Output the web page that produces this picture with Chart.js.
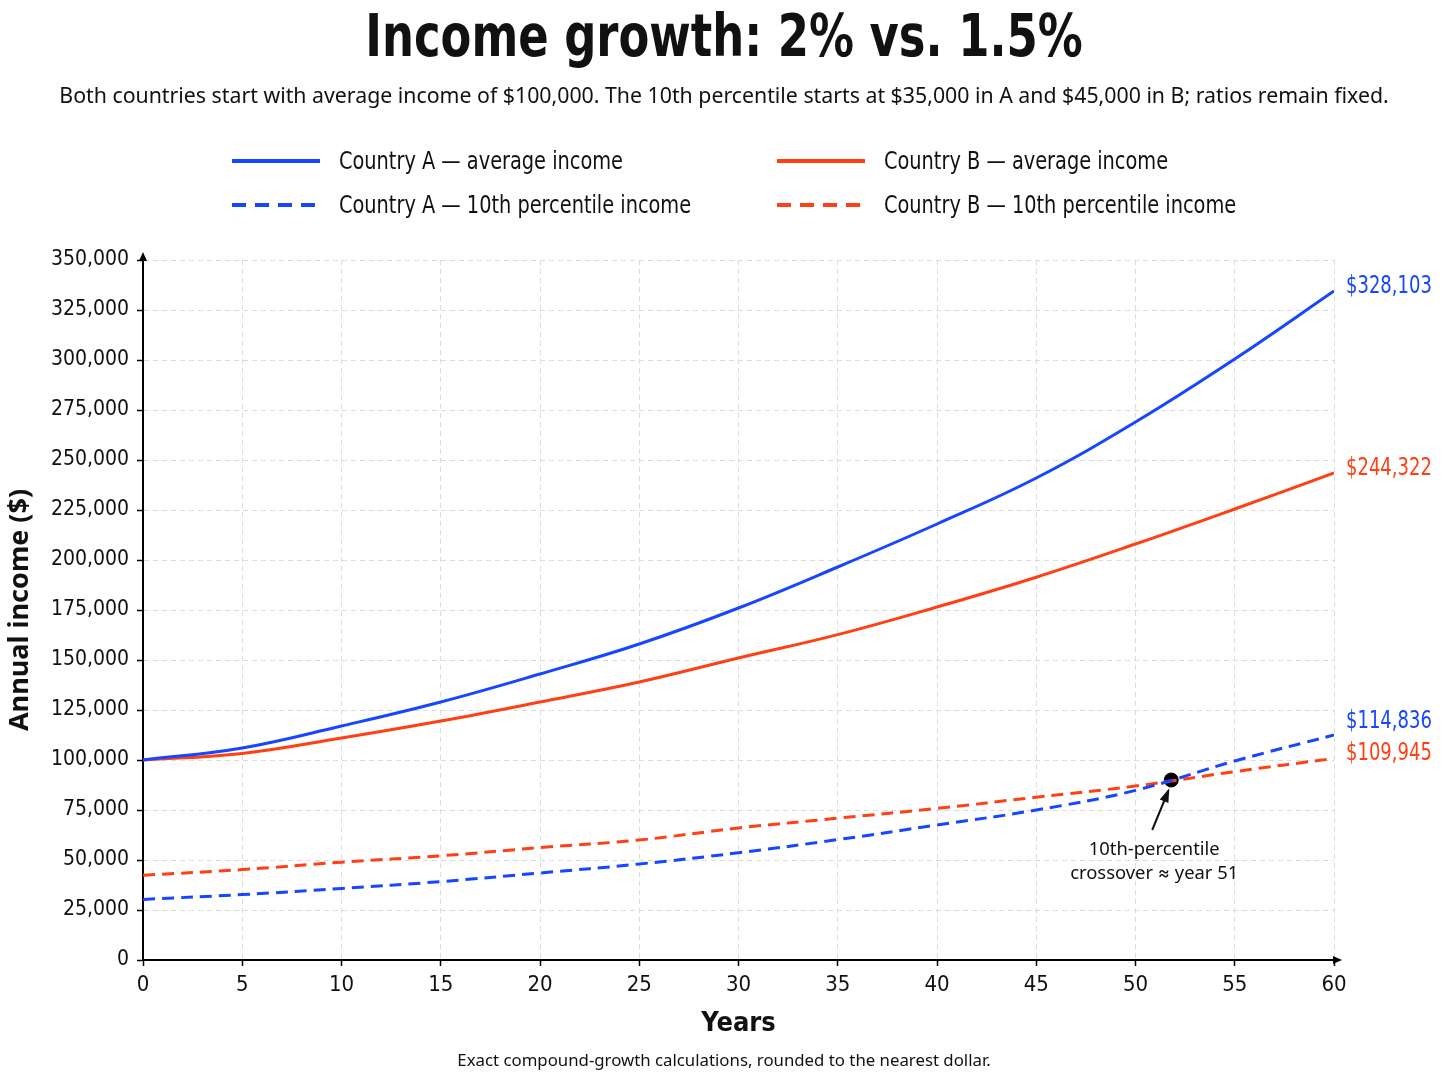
<!DOCTYPE html>
<html>
<head>
<meta charset="utf-8">
<script src="https://cdn.jsdelivr.net/npm/chart.js@4/dist/chart.umd.min.js"></script>
<style>
  html, body { margin: 0; padding: 0; background: #fff; }
  #wrap { position: relative; width: 1448px; height: 1086px; overflow: hidden; }
  #chart { position: absolute; left: 0; top: 0; }
  .txt { position: absolute; left: 0; width: 1448px; text-align: center; color: #111; white-space: nowrap; }
  #title { top: 2px; font: bold 58px 'DejaVu Sans Condensed', 'DejaVu Sans', sans-serif; transform: scaleX(0.86); transform-origin: 724px 0; }
  #subtitle { top: 80px; font: 21.3px 'Noto Sans', 'Inter', sans-serif; }
  #footer { top: 1048px; font: 16.8px 'Noto Sans', 'Inter', sans-serif; }
  #legend { position: absolute; left: 232px; top: 146px; width: 1100px; }
  .item { position: absolute; display: flex; align-items: center; color: #111; white-space: nowrap; }
  .item span { display: inline-block; font: 25px 'DejaVu Sans Condensed', 'DejaVu Sans', sans-serif; transform: scaleX(0.86); transform-origin: 0 50%; }
  .item svg { margin-right: 19px; }
</style>
</head>
<body>
<div id="wrap">
  <canvas id="chart" width="1448" height="1086"></canvas>
  <div class="txt" id="title">Income growth: 2% vs. 1.5%</div>
  <div class="txt" id="subtitle">Both countries start with average income of $100,000. The 10th percentile starts at $35,000 in A and $45,000 in B; ratios remain fixed.</div>
  <div id="legend"></div>
  <div class="txt" id="footer">Exact compound-growth calculations, rounded to the nearest dollar.</div>
</div>
<script>
// values, every 5 years
const years = [0, 5, 10, 15, 20, 25, 30, 35, 40, 45, 50, 55, 60];
const aAverage = [100000, 106000, 117000, 129000, 143000, 158000, 176000, 196500, 218000, 241000, 269000, 300500, 334500];
const bAverage = [100000, 103300, 111000, 119500, 129000, 139000, 151000, 162700, 176500, 191400, 208000, 225500, 243500];
const aTenth = [30300, 32700, 35800, 39200, 43500, 48000, 53600, 60200, 67500, 75000, 84800, 99500, 112500];
const bTenth = [42400, 45200, 48900, 52100, 56200, 60000, 66000, 70900, 75800, 81400, 87000, 94200, 100800];
const seriesNames = ['Country A — average income', 'Country B — average income', 'Country A — 10th percentile income', 'Country B — 10th percentile income'];
const endLabels = ['$328,103', '$244,322', '$114,836', '$109,945'];
const crossYear = [51.8];
const crossValue = [90000];
const crossNote = ['10th-percentile', 'crossover ≈ year 51'];

const BLUE = '#1646ff';
const RED = '#ff4014';
const NARROW = "'DejaVu Sans Condensed', 'DejaVu Sans', sans-serif";
const REGULAR = "'Noto Sans', 'Inter', sans-serif";

const toPoints = vals => vals.map((v, i) => ({ x: years[i], y: v }));

function lineSet(label, vals, color, dashed) {
  return {
    label: label,
    data: toPoints(vals),
    borderColor: color,
    backgroundColor: color,
    borderWidth: 3,
    borderDash: dashed ? [12, 7] : [],
    pointRadius: 0,
    tension: 0.4,
    fill: false
  };
}

const datasets = [
  lineSet(seriesNames[0], aAverage, BLUE, false),
  lineSet(seriesNames[1], bAverage, RED, false),
  lineSet(seriesNames[2], aTenth, BLUE, true),
  lineSet(seriesNames[3], bTenth, RED, true),
  {
    label: 'crossover',
    data: crossYear.map((x, i) => ({ x: x, y: crossValue[i] })),
    showLine: false,
    pointRadius: 7,
    pointBackgroundColor: '#000',
    pointBorderColor: '#000'
  }
];

// legend in two columns, built from the datasets
const legendEl = document.getElementById('legend');
datasets.slice(0, 4).forEach((ds, i) => {
  const item = document.createElement('div');
  item.className = 'item';
  item.style.left = (i % 2 ? 545 : 0) + 'px';
  item.style.top = (i < 2 ? 0 : 44) + 'px';
  const dash = ds.borderDash.length ? 'stroke-dasharray="14 9"' : '';
  item.innerHTML = `<svg width="88" height="6"><line x1="0" y1="3" x2="88" y2="3" stroke="${ds.borderColor}" stroke-width="4" ${dash}/></svg><span>${ds.label}</span>`;
  legendEl.appendChild(item);
});

// arrows on the axes, end labels and crossover note
const extras = {
  id: 'extras',
  afterDraw(chart) {
    const { ctx, chartArea: a } = chart;
    ctx.save();
    ctx.fillStyle = '#000';
    ctx.strokeStyle = '#000';
    ctx.lineWidth = 2;
    ctx.beginPath();
    ctx.moveTo(a.left, a.top);
    ctx.lineTo(a.left, a.top - 4);
    ctx.moveTo(a.right, a.bottom);
    ctx.lineTo(a.right + 4, a.bottom);
    ctx.stroke();
    ctx.beginPath();
    ctx.moveTo(a.left, a.top - 8);
    ctx.lineTo(a.left - 4, a.top + 1);
    ctx.lineTo(a.left + 4, a.top + 1);
    ctx.closePath();
    ctx.fill();
    ctx.beginPath();
    ctx.moveTo(a.right + 8, a.bottom);
    ctx.lineTo(a.right - 1, a.bottom - 4);
    ctx.lineTo(a.right - 1, a.bottom + 4);
    ctx.closePath();
    ctx.fill();

    // end labels, squeezed horizontally like the reference face
    const ys = [];
    for (let i = 0; i < 4; i++) {
      const meta = chart.getDatasetMeta(i);
      const p = meta.data[meta.data.length - 1];
      ys.push(p.y - 5);
    }
    if (ys[3] - ys[2] < 32) ys[2] = ys[3] - 32;
    ctx.font = '25px ' + NARROW;
    ctx.textBaseline = 'middle';
    ctx.textAlign = 'left';
    for (let i = 0; i < 4; i++) {
      ctx.save();
      ctx.translate(a.right + 12, ys[i]);
      ctx.scale(0.8, 1);
      ctx.fillStyle = datasets[i].borderColor;
      ctx.fillText(endLabels[i], 0, 0);
      ctx.restore();
    }

    // crossover annotation
    const dot = chart.getDatasetMeta(4).data[0];
    const ax = dot.x - 19, ay = dot.y + 50, bx = dot.x - 3, by = dot.y + 11;
    ctx.strokeStyle = '#111';
    ctx.fillStyle = '#111';
    ctx.lineWidth = 2;
    ctx.beginPath();
    ctx.moveTo(ax, ay);
    ctx.lineTo(bx, by);
    ctx.stroke();
    const ang = Math.atan2(by - ay, bx - ax);
    ctx.beginPath();
    ctx.moveTo(bx + Math.cos(ang) * 3, by + Math.sin(ang) * 3);
    ctx.lineTo(bx - Math.cos(ang - 0.4) * 12, by - Math.sin(ang - 0.4) * 12);
    ctx.lineTo(bx - Math.cos(ang + 0.4) * 12, by - Math.sin(ang + 0.4) * 12);
    ctx.closePath();
    ctx.fill();
    ctx.font = '18.4px ' + REGULAR;
    ctx.textAlign = 'center';
    ctx.fillText(crossNote[0], dot.x - 17, dot.y + 70);
    ctx.fillText(crossNote[1], dot.x - 17, dot.y + 94);
    ctx.restore();
  }
};

const gridStyle = {
  color: '#dcdcdc',
  lineWidth: 1,
  tickColor: '#000',
  tickLength: 6,
  tickWidth: 1.5,
  tickBorderDash: []
};

new Chart(document.getElementById('chart'), {
  type: 'line',
  data: { datasets: datasets },
  options: {
    responsive: false,
    animation: false,
    layout: { padding: { top: 260, right: 114, bottom: 0, left: 0 } },
    plugins: { legend: { display: false }, tooltip: { enabled: false } },
    scales: {
      x: {
        type: 'linear',
        min: 0,
        max: 60,
        afterFit(scale) { scale.height = 126; },
        ticks: { stepSize: 5, color: '#111', padding: 6, font: { size: 22, family: NARROW } },
        grid: gridStyle,
        border: { color: '#000', width: 2, dash: [5, 4] },
        title: { display: true, text: 'Years', color: '#111', font: { size: 27, weight: 'bold', family: NARROW }, padding: { bottom: 46 } }
      },
      y: {
        min: 0,
        max: 350000,
        afterFit(scale) { scale.width = 143; },
        ticks: {
          stepSize: 25000,
          color: '#111',
          padding: 8,
          font: { size: 21, family: NARROW },
          callback: v => v.toLocaleString('en-US')
        },
        grid: gridStyle,
        border: { color: '#000', width: 2, dash: [5, 4] },
        title: { display: true, text: 'Annual income ($)', color: '#111', font: { size: 27, weight: 'bold', family: REGULAR }, padding: { top: 4 } }
      }
    }
  },
  plugins: [extras]
});
</script>
</body>
</html>
